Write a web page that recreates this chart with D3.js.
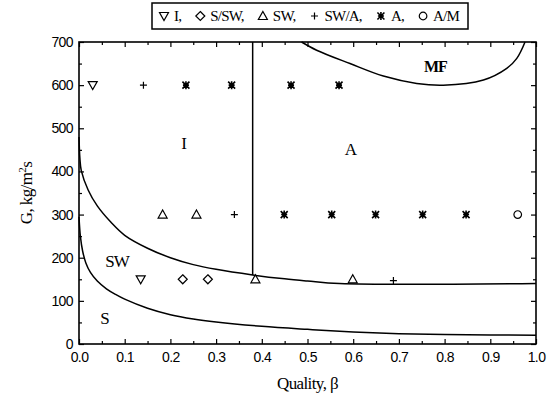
<!DOCTYPE html>
<html>
<head>
<meta charset="utf-8">
<script src="https://cdn.jsdelivr.net/npm/d3@7"></script>
<style>
  html, body { margin: 0; padding: 0; background: #fff; }
  svg { display: block; }
  .tick text { font-family: "Liberation Sans", Arial, sans-serif; font-size: 14px; letter-spacing: -0.6px; fill: #000; }
  .serif { font-family: "Liberation Serif", "Times New Roman", serif; fill: #000; }
</style>
</head>
<body>
<svg id="chart" width="555" height="408"></svg>
<script>
// Flow-regime map: mass flux G versus quality β, with observed regimes and transition lines.

const xTicks = [0, 0.1, 0.2, 0.3, 0.4, 0.5, 0.6, 0.7, 0.8, 0.9, 1.0];
const yTicks = [0, 100, 200, 300, 400, 500, 600, 700];

// Observed regimes [quality, G]
const ptsI    = [[0.03, 600], [0.135, 150]];
const ptsSSW  = [[0.227, 150], [0.282, 150]];
const ptsSW   = [[0.183, 300], [0.257, 300], [0.386, 150], [0.599, 150]];
const ptsSWA  = [[0.141, 600], [0.34, 300], [0.688, 147]];
const ptsA    = [[0.234, 600], [0.334, 600], [0.464, 600], [0.569, 600],
                 [0.449, 300], [0.553, 300], [0.649, 300], [0.752, 300], [0.847, 300]];
const ptsAM   = [[0.96, 300]];

// Transition lines [quality, G]
const lineS   = [[0.0, 295], [0.003, 250], [0.008, 215], [0.015, 188], [0.025, 166], [0.04, 146],
                 [0.06, 128], [0.08, 115], [0.1, 104], [0.15, 83], [0.2, 68], [0.25, 58], [0.3, 51],
                 [0.4, 41], [0.5, 34], [0.6, 28], [0.7, 24], [0.8, 22], [0.9, 21], [1.0, 20]];
const lineSW  = [[0.0, 480], [0.002, 430], [0.005, 402], [0.02, 357], [0.04, 320], [0.07, 282],
                 [0.1, 252], [0.15, 222], [0.2, 200], [0.25, 184], [0.3, 173], [0.38, 160],
                 [0.45, 151], [0.5, 146], [0.57, 140], [1.0, 140]];
const lineIA  = [[0.38, 700], [0.38, 160]];
const lineMF  = [[0.487, 700], [0.52, 681], [0.593, 650], [0.666, 621], [0.739, 604], [0.797, 600],
                 [0.885, 612], [0.936, 639], [0.958, 662], [0.976, 700]];

const regionLabels = [
  { text: "I",  x: 0.23,  y: 460, weight: "normal" },
  { text: "A",  x: 0.595, y: 448, weight: "normal" },
  { text: "MF", x: 0.78,  y: 638, weight: "bold" },
  { text: "SW", x: 0.083, y: 188, weight: "normal" },
  { text: "S",  x: 0.057, y: 55,  weight: "normal" }
];

const legendItems = [
  { key: "I",    label: "I," },
  { key: "SSW",  label: "S/SW," },
  { key: "SW",   label: "SW," },
  { key: "SWA",  label: "SW/A," },
  { key: "A",    label: "A," },
  { key: "AM",   label: "A/M" }
];

const svg = d3.select("#chart");
const margin = { left: 79, right: 19, top: 42, bottom: 64 };
const W = 555, H = 408;
const x = d3.scaleLinear().domain([0, 1]).range([margin.left, W - margin.right]);
const y = d3.scaleLinear().domain([0, 700]).range([H - margin.bottom, margin.top]);

// Marker glyphs
function drawMarker(g, key) {
  const s = "#000";
  if (key === "I") {
    g.append("path").attr("d", "M-4.5,-3.5 L4.5,-3.5 L0,4.5 Z").attr("fill", "none").attr("stroke", s).attr("stroke-width", 1.2);
  } else if (key === "SW") {
    g.append("path").attr("d", "M-4.5,3.5 L4.5,3.5 L0,-4.5 Z").attr("fill", "none").attr("stroke", s).attr("stroke-width", 1.2);
  } else if (key === "SSW") {
    g.append("path").attr("d", "M0,-4.5 L4.5,0 L0,4.5 L-4.5,0 Z").attr("fill", "none").attr("stroke", s).attr("stroke-width", 1.2);
  } else if (key === "SWA") {
    g.append("path").attr("d", "M-3.5,0 L3.5,0 M0,-3.5 L0,3.5").attr("stroke", s).attr("stroke-width", 1.2);
  } else if (key === "A") {
    g.append("path").attr("d", "M-3.5,-3.5 L3.5,3.5 M3.5,-3.5 L-3.5,3.5 M0,-4 L0,4 M-3,0 L3,0")
      .attr("stroke", s).attr("stroke-width", 1.6);
  } else if (key === "AM") {
    g.append("circle").attr("r", 3.8).attr("fill", "none").attr("stroke", s).attr("stroke-width", 1.2);
  }
}

// Frame
svg.append("rect")
  .attr("x", x(0)).attr("y", y(700))
  .attr("width", x(1) - x(0)).attr("height", y(0) - y(700))
  .attr("fill", "none").attr("stroke", "#000").attr("stroke-width", 1.6);

// Axes with inward ticks
const xMinor = d3.range(0.05, 1, 0.1);
const yMinor = d3.range(50, 700, 100);

function styleAxis(sel) {
  sel.select(".domain").remove();
  sel.selectAll(".tick line").attr("stroke", "#000").attr("stroke-width", 1.2);
}

svg.append("g").attr("transform", `translate(0,${y(0)})`)
  .call(d3.axisBottom(x).tickValues(xTicks).tickFormat(d3.format(".1f")).tickSizeInner(-5).tickSizeOuter(0).tickPadding(8))
  .call(styleAxis);
svg.append("g").attr("transform", `translate(0,${y(0)})`)
  .call(d3.axisBottom(x).tickValues(xMinor).tickFormat("").tickSizeInner(-3).tickSizeOuter(0))
  .call(styleAxis);
svg.append("g").attr("transform", `translate(0,${y(700)})`)
  .call(d3.axisTop(x).tickValues(xTicks).tickFormat("").tickSizeInner(-5).tickSizeOuter(0))
  .call(styleAxis);
svg.append("g").attr("transform", `translate(0,${y(700)})`)
  .call(d3.axisTop(x).tickValues(xMinor).tickFormat("").tickSizeInner(-3).tickSizeOuter(0))
  .call(styleAxis);
svg.append("g").attr("transform", `translate(${x(0)},0)`)
  .call(d3.axisLeft(y).tickValues(yTicks).tickFormat(d3.format("d")).tickSizeInner(-5).tickSizeOuter(0).tickPadding(6))
  .call(styleAxis);
svg.append("g").attr("transform", `translate(${x(0)},0)`)
  .call(d3.axisLeft(y).tickValues(yMinor).tickFormat("").tickSizeInner(-3).tickSizeOuter(0))
  .call(styleAxis);
svg.append("g").attr("transform", `translate(${x(1)},0)`)
  .call(d3.axisRight(y).tickValues(yTicks).tickFormat("").tickSizeInner(-5).tickSizeOuter(0))
  .call(styleAxis);
svg.append("g").attr("transform", `translate(${x(1)},0)`)
  .call(d3.axisRight(y).tickValues(yMinor).tickFormat("").tickSizeInner(-3).tickSizeOuter(0))
  .call(styleAxis);

// Transition lines
const line = d3.line().x(d => x(d[0])).y(d => y(d[1]));
const smooth = d3.line().x(d => x(d[0])).y(d => y(d[1])).curve(d3.curveCatmullRom.alpha(0.5));
const lines = svg.append("g").attr("fill", "none").attr("stroke", "#000").attr("stroke-width", 1.5);
lines.append("path").attr("d", smooth(lineS));
lines.append("path").attr("d", smooth(lineSW));
lines.append("path").attr("d", line(lineIA));
lines.append("path").attr("d", smooth(lineMF));

// Data points
const series = [
  { key: "I", pts: ptsI }, { key: "SSW", pts: ptsSSW }, { key: "SW", pts: ptsSW },
  { key: "SWA", pts: ptsSWA }, { key: "A", pts: ptsA }, { key: "AM", pts: ptsAM }
];
series.forEach(s => {
  s.pts.forEach(p => {
    const g = svg.append("g").attr("transform", `translate(${x(p[0])},${y(p[1])})`);
    drawMarker(g, s.key);
  });
});

// Region labels
regionLabels.forEach(r => {
  svg.append("text").attr("class", "serif")
    .attr("x", x(r.x)).attr("y", y(r.y))
    .attr("text-anchor", "middle").attr("dominant-baseline", "middle")
    .attr("font-size", r.weight === "bold" ? 16 : 17)
    .attr("font-weight", r.weight)
    .attr("letter-spacing", r.text.length > 1 ? -1 : 0)
    .text(r.text);
});

// Axis titles
svg.append("text").attr("class", "serif")
  .attr("x", (x(0) + x(1)) / 2).attr("y", 389)
  .attr("text-anchor", "middle").attr("font-size", 17).attr("letter-spacing", -0.6)
  .text("Quality, β");

const yt = svg.append("text").attr("class", "serif")
  .attr("transform", `translate(32,${(y(0) + y(700)) / 2}) rotate(-90)`)
  .attr("text-anchor", "middle").attr("font-size", 17).attr("letter-spacing", -0.6);
yt.append("tspan").text("G, kg/m");
yt.append("tspan").attr("font-size", 11).attr("dy", -6).text("2");
yt.append("tspan").attr("dy", 6).text("s");

// Legend: items spread evenly across the box
const legend = svg.append("g");
const lgX = 152, lgY = 3, lgW = 316, lgH = 26;
legend.append("rect").attr("x", lgX).attr("y", lgY).attr("width", lgW).attr("height", lgH)
  .attr("fill", "#fff").attr("stroke", "#000").attr("stroke-width", 1.5);
const padL = 12, padR = 8, markToText = 11;
const texts = legendItems.map(item => legend.append("text").attr("class", "serif")
  .attr("y", lgY + lgH / 2 + 5).attr("font-size", 15).attr("letter-spacing", -0.8)
  .text(item.label));
const widths = texts.map(t => t.node().getComputedTextLength());
const used = d3.sum(widths) + legendItems.length * markToText;
const gap = (lgW - padL - padR - used) / (legendItems.length - 1);
let cx = lgX + padL;
legendItems.forEach((item, i) => {
  const g = legend.append("g").attr("transform", `translate(${cx},${lgY + lgH / 2})`);
  drawMarker(g, item.key);
  texts[i].attr("x", cx + markToText - 1);
  cx += markToText + widths[i] + gap;
});
</script>
</body>
</html>
